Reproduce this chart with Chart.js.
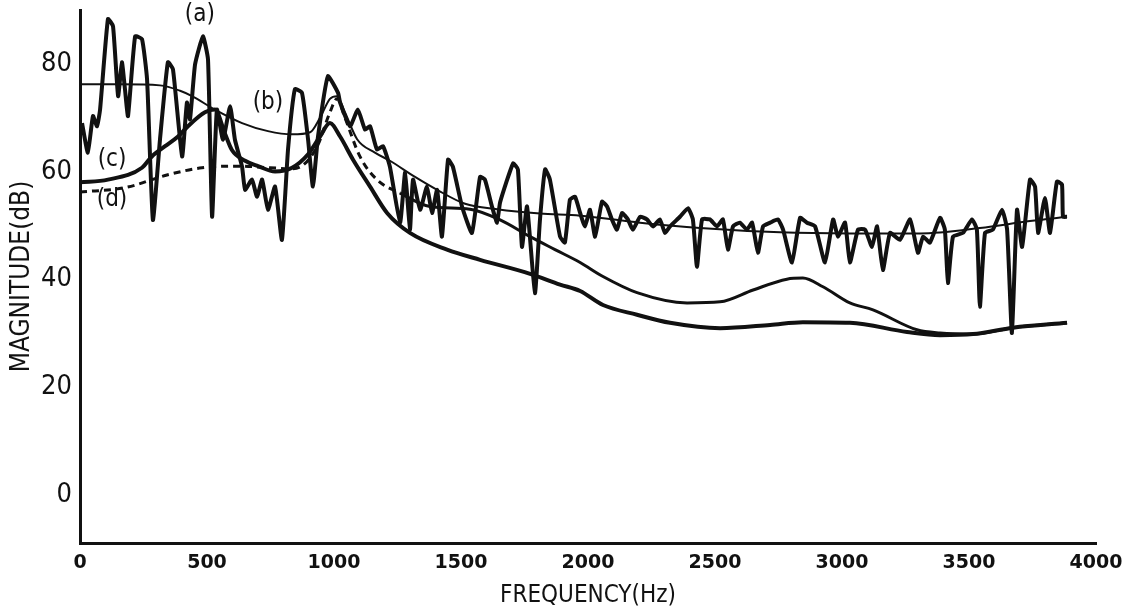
<!DOCTYPE html>
<html>
<head>
<meta charset="utf-8">
<script src="https://cdn.jsdelivr.net/npm/chart.js@4.4.1/dist/chart.umd.min.js"></script>
<style>
  html, body { margin: 0; padding: 0; background: #fff; }
  #wrap { width: 1142px; height: 613px; position: relative; }
</style>
</head>
<body>
<div id="wrap"><canvas id="spectrum"></canvas></div>
<script>
// (a) measured spectrum - spiky
var aHz = [8, 31, 51, 67, 79, 110, 130, 150, 165, 177, 189, 217, 244, 264, 287, 315, 346, 366, 402, 421, 433, 453, 484, 504, 520, 539, 563, 591, 610, 638, 650, 677, 697, 717, 740, 768, 795, 819, 846, 874, 898, 917, 937, 976, 1016,
  1024, 1063, 1094, 1122, 1142, 1169, 1193, 1220, 1260, 1280, 1299, 1311, 1339, 1366, 1386, 1406, 1425, 1449, 1468, 1504, 1543, 1575, 1594, 1622, 1642, 1654, 1705, 1724, 1740, 1760, 1791, 1811, 1831, 1850, 1890, 1909, 1929, 1949, 1969,
  1988, 2008, 2028, 2055, 2075, 2094, 2114, 2134, 2157, 2177, 2205, 2232, 2256, 2283, 2303, 2323, 2362, 2394, 2413, 2429, 2449, 2480, 2508, 2531, 2551, 2571, 2598, 2626, 2646, 2669, 2689, 2717, 2748, 2768, 2803, 2835, 2862, 2894, 2933, 2965, 2984, 3012, 3031,
  3063, 3091, 3118, 3138, 3161, 3189, 3228, 3268, 3299, 3319, 3346, 3386, 3405, 3417, 3437, 3476, 3512, 3531, 3543, 3563, 3594, 3630, 3650, 3669, 3689, 3709, 3740, 3760, 3772, 3799, 3819, 3846, 3866, 3870, 3886];
var aDb = [69, 63.5, 70.3, 68.4, 71.5, 88.3, 87, 74, 80.3, 75.3, 70.3, 85.1, 84.6, 77.1, 51, 66, 80.3, 79, 62.8, 72.8, 69.7, 79.9, 85.1, 80.8, 51.6, 71.5, 65.9, 72.1, 65.9, 60.9, 56.6, 58.5, 55.3, 58.5, 52.9, 57.2, 47.3, 64.1, 75.3, 74.6, 65.9, 57.2, 66.5, 77.7, 74.6,
  72.8, 68.4, 71.5, 67.8, 68.4, 64.1, 64.7, 60.9, 50.5, 59.8, 49.2, 58.5, 52.9, 57.2, 52.3, 56.6, 47.9, 62.2, 60.9, 53.5, 48.6, 59, 58.5, 53.5, 50.5, 54.3, 61.5, 60.4, 46, 53.5, 37.4, 51.1, 60.4, 58.5, 47.9, 46.8, 54.8, 55.3, 52.3,
  49.8, 52.9, 47.9, 54.4, 53.5, 51.1, 49.2, 52.3, 51.1, 49.2, 51.6, 51.1, 49.8, 51.1, 48.6, 49.8, 51.6, 53.2, 51.1, 42.3, 51.1, 51.1, 49.8, 51.1, 45.5, 49.8, 50.5, 49.2, 50.5, 44.9, 49.8, 50.5, 51.1, 49.2, 43.1, 51.4, 50.5, 49.8, 43.1, 51.1, 47.9, 50.5, 43.1,
  49.2, 49.2, 46, 49.8, 41.7, 48.6, 47.3, 51.1, 44.9, 47.9, 46.8, 51.4, 49.2, 39.3, 47.9, 48.6, 51.1, 49.2, 34.9, 48.6, 49.2, 52.9, 49.2, 30, 52.9, 46, 58.5, 57.2, 48.6, 55.1, 48.6, 58.1, 57.6, 51.6, 51.6];

// (b) smooth envelope - thin
var bHz = [0, 157, 315, 394, 441, 531, 638, 740, 835, 906, 945, 984, 1012, 1043, 1091, 1161, 1220, 1319, 1406, 1516, 1642, 1811, 1969, 2205, 2441, 2756, 3031, 3307, 3543, 3740, 3886];
var bDb = [76.2, 76.2, 76, 75, 74, 71.5, 69, 67.5, 66.9, 67.3, 70, 73.5, 74, 71, 66, 63.5, 62, 59, 56.6, 54, 53, 52.2, 51.8, 50.5, 49.5, 48.7, 48.5, 48.5, 49.5, 50.8, 51.6];

// (c) thick smooth
var cHz = [0, 110, 244, 283, 335, 386, 425, 492, 531, 571, 598, 650, 701, 768, 835, 898, 945, 984, 1024, 1075, 1142, 1209, 1299, 1445, 1575, 1772, 1890, 1969, 2059, 2193, 2323, 2520, 2717, 2846, 3031, 3256, 3386, 3516, 3673, 3886];
var cDb = [58, 58.5, 60.7, 62.8, 64.7, 66.5, 68.4, 71, 71.5, 67, 64, 62, 61, 60, 60.7, 63.2, 66.5, 69, 66.5, 62.2, 57.2, 52.3, 48.6, 45.5, 43.6, 41, 39, 37.8, 35.2, 33.4, 31.9, 30.9, 31.5, 32, 31.9, 30.2, 29.6, 29.8, 31, 31.9];

// (d) dotted / dashed
var dHz = [0, 177, 346, 480, 630, 748, 835, 886, 937, 984, 1012, 1043, 1102, 1169, 1260, 1378, 1535, 1654, 1772, 1870, 1969, 2059, 2193, 2390, 2520, 2650, 2783, 2846, 2925, 3031, 3122, 3295, 3386, 3516, 3673, 3886];
var dDb = [56.2, 57, 59.4, 60.7, 61, 60.7, 60.5, 61.5, 65, 71, 73.5, 70, 62.8, 58.5, 56, 53.5, 53, 51, 47.9, 45.5, 43.1, 40.5, 37.5, 35.6, 35.8, 38, 40, 40.2, 38.6, 35.6, 34.3, 30.6, 30, 29.8, 31, 31.9];

// curve labels
var tagText = ["(a)", "(b)", "(c)", "(d)"];
var tagHz = [472, 740, 126, 126];
var tagDb = [89.2, 72.8, 62.2, 54.8];

function pts(xs, ys) {
    var out = [];
    for (var i = 0; i < xs.length; i++) out.push({x: xs[i], y: ys[i]});
    return out;
}

var ink = '#111';
var narrow = '"Liberation Sans Narrow", "DejaVu Sans Condensed", "Liberation Sans", sans-serif';

var tagPlugin = {
    id: 'tags',
    afterDatasetsDraw: function (chart) {
        var ctx = chart.ctx;
        var xs = chart.scales.x, ys = chart.scales.y;
        ctx.save();
        ctx.fillStyle = ink;
        ctx.font = '24px ' + narrow;
        ctx.textAlign = 'center';
        ctx.textBaseline = 'middle';
        for (var i = 0; i < tagText.length; i++) {
            ctx.fillText(tagText[i], xs.getPixelForValue(tagHz[i]), ys.getPixelForValue(tagDb[i]));
        }
        ctx.restore();
    }
};

var ctxS = document.getElementById('spectrum').getContext('2d');
var spectrumChart = new Chart(ctxS, {
    type: 'scatter',
    data: {
        datasets: [{
            label: '(a)',
            data: pts(aHz, aDb),
            showLine: true,
            borderColor: ink,
            borderWidth: 4,
            tension: 0.15,
            borderJoinStyle: 'round',
            pointRadius: 0
        }, {
            label: '(b)',
            data: pts(bHz, bDb),
            showLine: true,
            borderColor: ink,
            borderWidth: 2,
            cubicInterpolationMode: 'monotone',
            pointRadius: 0
        }, {
            label: '(c)',
            data: pts(cHz, cDb),
            showLine: true,
            borderColor: ink,
            borderWidth: 4,
            cubicInterpolationMode: 'monotone',
            pointRadius: 0
        }, {
            label: '(d)',
            data: pts(dHz, dDb),
            showLine: true,
            borderColor: ink,
            borderWidth: 3,
            cubicInterpolationMode: 'monotone',
            pointRadius: 0,
            segment: {
                borderDash: function (c) { return c.p0.parsed.x < 1250 ? [7, 5] : undefined; }
            }
        }]
    },
    options: {
        responsive: true,
        maintainAspectRatio: false,
        animation: false,
        layout: { padding: { left: 0, right: 46, top: 10, bottom: 0 } },
        plugins: { legend: { display: false }, tooltip: { enabled: false } },
        scales: {
            x: {
                type: 'linear',
                min: 0,
                max: 4000,
                grid: { display: false, drawTicks: false },
                border: { display: true, color: ink, width: 3 },
                ticks: {
                    stepSize: 500,
                    includeBounds: false,
                    padding: 9,
                    color: ink,
                    maxRotation: 0,
                    callback: function (v) { return String(v); },
                    font: { family: '"DejaVu Sans"', size: 19, weight: 'bold' }
                },
                title: {
                    display: true,
                    text: 'FREQUENCY(Hz)',
                    color: ink,
                    padding: { top: 0, bottom: 3 },
                    font: { family: narrow, size: 24 }
                },
                afterFit: function (s) { s.height = 70; s.paddingLeft = 0; s.paddingRight = 0; }
            },
            y: {
                min: -9,
                max: 90,
                grid: { display: false, drawTicks: false },
                border: { display: true, color: ink, width: 3 },
                ticks: {
                    stepSize: 20,
                    includeBounds: false,
                    padding: 8,
                    color: ink,
                    callback: function (v) { return String(v); },
                    font: { family: narrow, size: 27 }
                },
                title: {
                    display: true,
                    text: 'MAGNITUDE(dB)',
                    color: ink,
                    padding: { top: 7, bottom: 0 },
                    font: { family: narrow, size: 26 }
                },
                afterFit: function (s) { s.width = 80; s.paddingTop = 0; s.paddingBottom = 0; }
            }
        }
    },
    plugins: [tagPlugin]
});
</script>
</body>
</html>
